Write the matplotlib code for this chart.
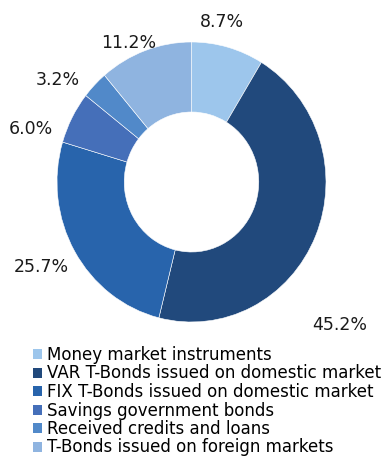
import matplotlib
matplotlib.use("Agg")
import matplotlib.pyplot as plt
from matplotlib.patches import Patch
import numpy as np

# Debt structure shares (%)
categories = [
    "Money market instruments",
    "VAR T-Bonds issued on domestic market",
    "FIX T-Bonds issued on domestic market",
    "Savings government bonds",
    "Received credits and loans",
    "T-Bonds issued on foreign markets",
]
shares = [8.7, 45.2, 25.7, 6.0, 3.2, 11.2]
colors = ["#9dc6ec", "#21497c", "#2864ac", "#456fb9", "#5189c9", "#8fb4e0"]

# label placement: (angle in degrees, radius in axes units)
label_pos = [(78.8, 1.165), (-42.8, 1.50), (-151.5, 1.27),
             (162.3, 1.25), (143.7, 1.23), (115.1, 1.10)]

W, H = 383, 457
fig = plt.figure(figsize=(W / 100, H / 100), dpi=100)

cx, cy, rx, ry = 191.5, 182, 134.5, 140
ax = fig.add_axes([(cx - rx) / W, (H - cy - ry) / H, 2 * rx / W, 2 * ry / H])
ax.pie(shares, colors=colors, startangle=90, counterclock=False,
       wedgeprops=dict(width=0.5, edgecolor="white", linewidth=0.4))
ax.set_aspect("auto")
ax.set_xlim(-1, 1)
ax.set_ylim(-1, 1)

for val, (ang, r) in zip(shares, label_pos):
    a = np.deg2rad(ang)
    ax.text(r * np.cos(a), r * np.sin(a), f"{val:.1f}%",
            ha="center", va="center", fontsize=12.5, color="#1a1a1a",
            clip_on=False)

handles = [Patch(facecolor=c, edgecolor="none") for c in colors]
fig.legend(handles, categories, loc="upper left",
           bbox_to_anchor=(33 / W, 1 - 346 / H), frameon=False,
           fontsize=12, handlelength=0.55, handleheight=0.55,
           handletextpad=0.3, labelspacing=0.03, borderpad=0,
           borderaxespad=0)

fig.savefig("out.png", dpi=100)
